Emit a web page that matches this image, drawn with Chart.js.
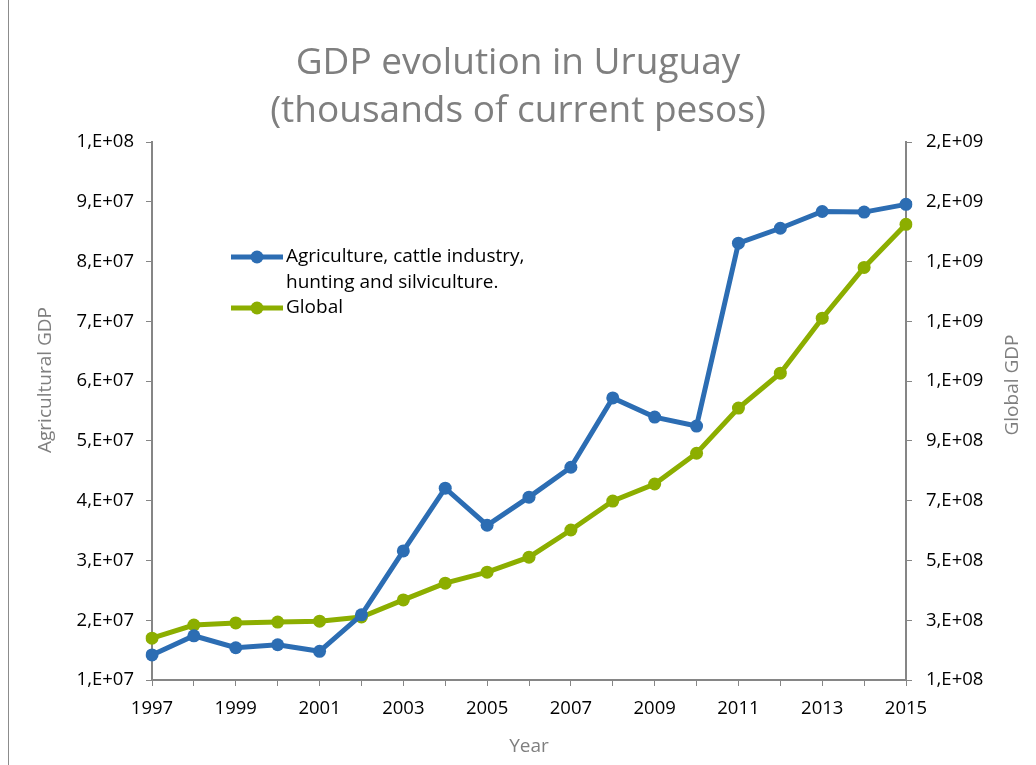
<!DOCTYPE html>
<html>
<head>
<meta charset="utf-8">
<script src="https://cdn.jsdelivr.net/npm/chart.js@4/dist/chart.umd.min.js"></script>
<style>
  html, body { margin: 0; padding: 0; background: #fff; }
  #wrap { position: relative; width: 1036px; height: 765px; }
  #frame { position: absolute; left: 8px; top: 0; width: 0; height: 765px; border-left: 1px solid #8c8c8c; }
</style>
</head>
<body>
<div id="wrap">
  <div id="frame"></div>
  <canvas id="lineChart" width="1036" height="765"></canvas>
</div>
<script>
// values
const years = ['1997', '1998', '1999', '2000', '2001', '2002', '2003', '2004', '2005', '2006',
    '2007', '2008', '2009', '2010', '2011', '2012', '2013', '2014', '2015'];
const agriGdp = [1.42e7, 1.74e7, 1.54e7, 1.59e7, 1.48e7, 2.09e7, 3.16e7, 4.21e7, 3.59e7, 4.06e7,
    4.56e7, 5.72e7, 5.40e7, 5.25e7, 8.31e7, 8.56e7, 8.84e7, 8.83e7, 8.96e7];
const globalGdp = [2.40e8, 2.84e8, 2.91e8, 2.94e8, 2.97e8, 3.11e8, 3.68e8, 4.24e8, 4.61e8, 5.11e8,
    6.02e8, 6.99e8, 7.56e8, 8.59e8, 1.010e9, 1.127e9, 1.311e9, 1.481e9, 1.625e9];
const leftTickLabels = ['1,E+07', '2,E+07', '3,E+07', '4,E+07', '5,E+07', '6,E+07', '7,E+07', '8,E+07', '9,E+07', '1,E+08'];
const rightTickLabels = ['1,E+08', '3,E+08', '5,E+08', '7,E+08', '9,E+08', '1,E+09', '1,E+09', '1,E+09', '2,E+09', '2,E+09'];

const seriesNames = ['Agriculture, cattle industry,\nhunting and silviculture.', 'Global'];
const blue = '#2c6db3';
const green = '#8cae00';
const axisGray = '#868686';
const titleGray = '#7f7f7f';
const fontFamily = "'Open Sans', 'Noto Sans', sans-serif";

// legend sits inside the plot, like the Excel original
const insideLegend = {
    id: 'insideLegend',
    afterDraw(chart) {
        const c = chart.ctx;
        let y = 257;
        c.save();
        c.font = '19px ' + fontFamily;
        c.textBaseline = 'middle';
        c.fillStyle = '#000';
        chart.data.datasets.forEach(ds => {
            c.strokeStyle = ds.borderColor;
            c.lineWidth = 5;
            c.beginPath();
            c.moveTo(231, y);
            c.lineTo(283, y);
            c.stroke();
            c.fillStyle = ds.borderColor;
            c.beginPath();
            c.arc(257, y, 6.5, 0, Math.PI * 2);
            c.fill();
            c.fillStyle = '#000';
            ds.label.split('\n').forEach((line, i) => {
                c.fillText(line, 286, y + i * 26);
            });
            y += ds.label.split('\n').length * 26 - 1;
        });
        c.restore();
    }
};

// axis titles, placed where Excel put them
const axisTitles = {
    id: 'axisTitles',
    afterDraw(chart) {
        const c = chart.ctx;
        c.save();
        c.font = '19px ' + fontFamily;
        c.fillStyle = titleGray;
        c.textAlign = 'center';
        c.textBaseline = 'middle';
        c.fillText('Year', 529, 747);
        c.translate(46, 380);
        c.rotate(-Math.PI / 2);
        c.fillText('Agricultural GDP', 0, 0);
        c.restore();
        c.save();
        c.font = '19px ' + fontFamily;
        c.fillStyle = titleGray;
        c.textAlign = 'center';
        c.textBaseline = 'middle';
        c.translate(1013, 385);
        c.rotate(-Math.PI / 2);
        c.fillText('Global GDP', 0, 0);
        c.restore();
    }
};

const ctx = document.getElementById('lineChart');
const tickFont = { family: fontFamily, size: 18.5 };

new Chart(ctx, {
    type: 'line',
    data: {
        labels: years,
        datasets: [{
            label: seriesNames[0],
            data: agriGdp,
            yAxisID: 'y',
            borderColor: blue,
            backgroundColor: blue,
            pointBackgroundColor: blue,
            borderWidth: 5,
            pointRadius: 6.5,
            pointBorderWidth: 0,
            tension: 0,
            fill: false
        }, {
            label: seriesNames[1],
            data: globalGdp,
            yAxisID: 'y1',
            borderColor: green,
            backgroundColor: green,
            pointBackgroundColor: green,
            borderWidth: 5,
            pointRadius: 6.5,
            pointBorderWidth: 0,
            tension: 0,
            fill: false
        }]
    },
    options: {
        responsive: false,
        animation: false,
        layout: { padding: 0 },
        plugins: {
            legend: { display: false },
            tooltip: { enabled: false },
            title: {
                display: true,
                text: ['GDP evolution in Uruguay', '(thousands of current pesos)'],
                color: titleGray,
                font: { family: fontFamily, size: 37, weight: 'normal', lineHeight: 1.3 },
                padding: { top: 39, bottom: 7 }
            }
        },
        scales: {
            x: {
                type: 'category',
                offset: false,
                grid: { drawOnChartArea: false, drawTicks: true, tickLength: 6, color: axisGray, lineWidth: 1 },
                border: { color: axisGray, width: 2 },
                ticks: {
                    autoSkip: false,
                    maxRotation: 0,
                    padding: 12,
                    color: '#000',
                    font: tickFont,
                    callback: (v, i) => (i % 2 === 0 ? years[i] : '')
                },
                afterFit: s => { s.height = 85; }
            },
            y: {
                position: 'left',
                min: 1e7,
                max: 1e8,
                grid: { drawOnChartArea: false, drawTicks: true, tickLength: 6, color: axisGray, lineWidth: 1 },
                border: { color: axisGray, width: 2 },
                ticks: {
                    stepSize: 1e7,
                    padding: 12,
                    color: '#000',
                    font: tickFont,
                    callback: (v, i) => leftTickLabels[i]
                },
                afterFit: s => { s.width = 152; }
            },
            y1: {
                position: 'right',
                min: 1e8,
                max: 1.9e9,
                grid: { drawOnChartArea: false, drawTicks: true, tickLength: 6, color: axisGray, lineWidth: 1 },
                border: { color: axisGray, width: 2 },
                ticks: {
                    stepSize: 2e8,
                    padding: 14,
                    color: '#000',
                    font: tickFont,
                    callback: (v, i) => rightTickLabels[i]
                },
                afterFit: s => { s.width = 130; }
            }
        }
    },
    plugins: [insideLegend, axisTitles]
});
</script>
</body>
</html>
